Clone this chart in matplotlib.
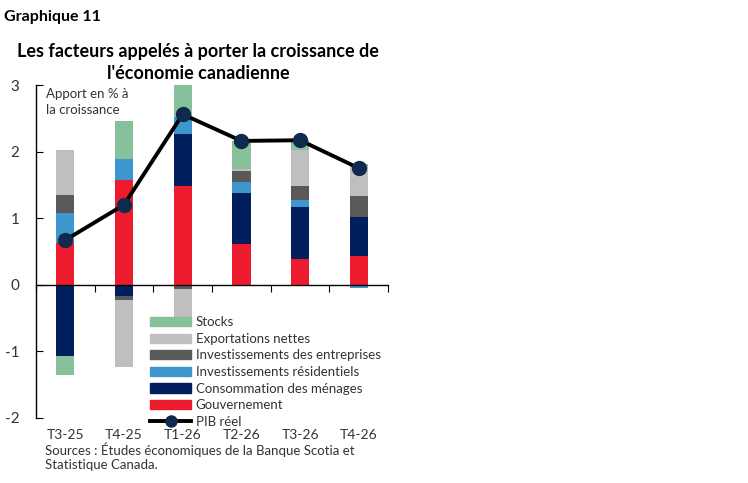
import numpy as np
import matplotlib
matplotlib.use("Agg")
import matplotlib.pyplot as plt
from matplotlib.lines import Line2D
from matplotlib.patches import Patch

plt.rcParams['font.family'] = ['Lato', 'DejaVu Sans']

# Data (contributions to growth, % points)
quarters = ["T3-25", "T4-25", "T1-26", "T2-26", "T3-26", "T4-26"]
gouv = [0.63, 1.57, 1.49, 0.61, 0.38, 0.43]
conso = [-1.07, -0.17, 0.78, 0.76, 0.79, 0.59]
resid = [0.45, 0.32, 0.25, 0.18, 0.10, -0.05]
entrep = [0.27, -0.06, -0.07, 0.16, 0.21, 0.31]
export = [0.67, -1.01, -0.44, 0.03, 0.54, 0.45]
stocks = [-0.28, 0.57, 0.50, 0.42, 0.15, 0.03]
pib = [0.67, 1.20, 2.56, 2.16, 2.17, 1.75]

series = [
    ("Gouvernement", gouv, "#EC1C2E"),
    ("Consommation des ménages", conso, "#011F5E"),
    ("Investissements résidentiels", resid, "#3D97CE"),
    ("Investissements des entreprises", entrep, "#595959"),
    ("Exportations nettes", export, "#BFBFBF"),
    ("Stocks", stocks, "#87C19C"),
]

fig = plt.figure(figsize=(7.48, 4.83), dpi=100)
ax = fig.add_axes([0.048, 0.135, 0.471, 0.689])

x = np.arange(len(quarters))
pos = np.zeros(len(x))
neg = np.zeros(len(x))
for name, vals, col in series:
    v = np.array(vals)
    bottom = np.where(v >= 0, pos, neg)
    ax.bar(x, v, 0.31, bottom=bottom, color=col, zorder=2)
    pos += np.clip(v, 0, None)
    neg += np.clip(v, None, 0)

ax.plot(x, pib, color="black", lw=2.8, marker="o", ms=10,
        mfc="#0F2A4C", mec="#0F2A4C", zorder=4)

ax.set_xlim(-0.5, 5.5)
ax.set_ylim(-2, 3)
ax.spines['top'].set_visible(False)
ax.spines['right'].set_visible(False)
ax.spines['bottom'].set_position(('data', 0))
ax.spines['left'].set_color("black")
ax.spines['left'].set_linewidth(1)
ax.spines['bottom'].set_linewidth(1)
ax.set_yticks([-2, -1, 0, 1, 2, 3])
ax.set_yticklabels(["-2", "-1", "0", "1", "2", "3"])
ax.tick_params(axis='y', direction='in', length=5, labelsize=11,
               labelcolor="#333333", pad=12)
ax.set_xticks(np.arange(-0.5, 6, 1))
ax.set_xticklabels([])
ax.tick_params(axis='x', direction='out', length=5)
for i, q in enumerate(quarters):
    ax.text(i, -0.052, q, transform=ax.get_xaxis_transform(), ha='center',
            va='center', fontsize=10, color="#333333")

ax.text(0.03, 0.99, "Apport en % à\nla croissance", transform=ax.transAxes,
        ha='left', va='top', fontsize=9.5, color="#333333", linespacing=1.35)

handles = [Patch(color=col, label=name) for name, vals, col in series[::-1]]
handles.append(Line2D([0], [0], color="black", lw=2.8, marker="o", ms=8,
                      mfc="#0F2A4C", mec="#0F2A4C", label="PIB réel"))
ax.legend(handles=handles, loc='lower left', bbox_to_anchor=(0.291, -0.066),
          frameon=False, fontsize=9.5, handlelength=3.1, handleheight=0.7,
          labelspacing=0.35, handletextpad=0.35, labelcolor="#333333")

fig.text(0.006, 0.965, "Graphique 11", fontsize=11.5, fontweight='bold',
         ha='left', va='center')
fig.text(0.265, 0.871, "Les facteurs appelés à porter la croissance de\nl'économie canadienne",
         fontsize=13, fontweight='bold', ha='center', va='center',
         linespacing=1.35)
fig.text(0.06, 0.054, "Sources : Études économiques de la Banque Scotia et\nStatistique Canada.",
         fontsize=9.5, ha='left', va='center', color="#333333", linespacing=1.15)

fig.savefig("out.png", dpi=100)
